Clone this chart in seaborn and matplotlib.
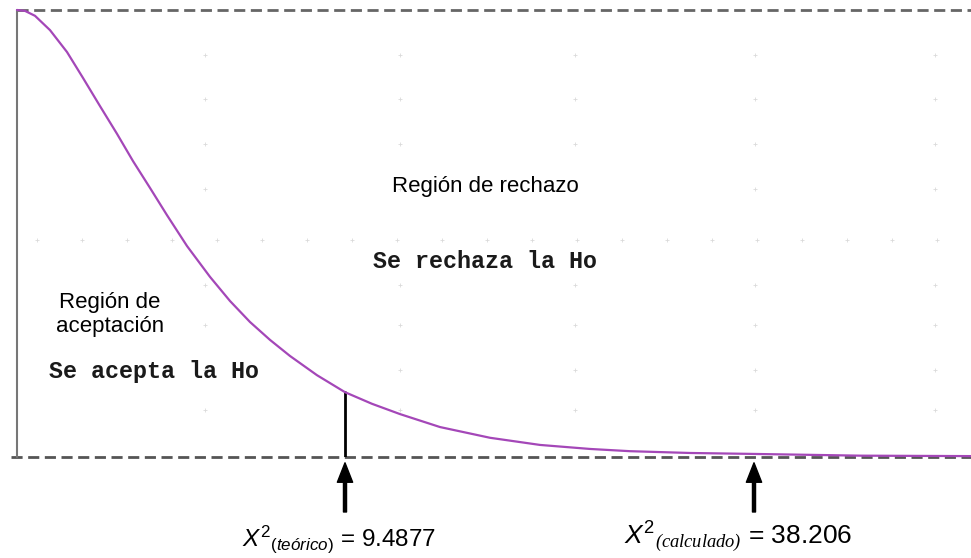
import matplotlib
matplotlib.use("Agg")
import matplotlib.pyplot as plt
import seaborn as sns
import pandas as pd

# curve of the distribution (x in plot units, y as fraction of height)
curve_x = [0, 8, 18, 33, 50, 66, 83, 100, 116, 133, 150, 170, 193, 213, 233, 253,
           273, 300, 328, 355, 383, 423, 473, 523, 573, 613, 673, 733, 843, 954]
curve_y = [1.0, 0.998, 0.987, 0.955, 0.906, 0.848, 0.785, 0.723, 0.662, 0.602,
           0.541, 0.472, 0.403, 0.349, 0.302, 0.262, 0.226, 0.183, 0.145, 0.119,
           0.096, 0.067, 0.043, 0.027, 0.018, 0.013, 0.009, 0.007, 0.003, 0.002]

# critical value and calculated value positions
crit_x = 328
crit_h = 0.145
calc_x = 737

# faint background specks
speck_cols = [188, 383, 558, 738, 918]
speck_rows = [0.90, 0.80, 0.70, 0.60, 0.385, 0.295, 0.195, 0.105]
mid_row_x = [20, 65, 110, 155, 200, 245, 290, 335, 380, 425, 470, 515, 560,
             605, 650, 695, 740, 785, 830, 875, 920]
mid_row_y = 0.485

df = pd.DataFrame({"x": curve_x, "y": curve_y})

sns.set_style("white")
plt.rcParams["font.family"] = ["Liberation Sans", "DejaVu Sans"]
plt.rcParams["text.color"] = "black"
plt.rcParams["mathtext.fontset"] = "custom"
plt.rcParams["mathtext.rm"] = "Liberation Sans"
plt.rcParams["mathtext.it"] = "Liberation Sans:italic"
plt.rcParams["mathtext.cal"] = "Liberation Serif:italic"

fig = plt.figure(figsize=(9.71, 5.58), dpi=100)
ax = fig.add_axes([17 / 971, 101 / 558, 954 / 971, 447 / 558])
ax.set_xlim(0, 954)
ax.set_ylim(0, 1)
ax.axis("off")

# specks
sx = [c for c in speck_cols for r in speck_rows]
sy = [r for c in speck_cols for r in speck_rows]
ax.scatter(sx, sy, marker="+", s=10, color="#dadada", linewidths=0.6, zorder=1)
ax.scatter(mid_row_x, [mid_row_y] * len(mid_row_x), marker="+", s=10,
           color="#dadada", linewidths=0.6, zorder=1)

# frame: dashed top and bottom, solid left
ax.plot([0, 954], [1, 1], ls=(0, (4, 2)), color="#666666", lw=2, clip_on=False, zorder=2)
ax.plot([-6, 954], [0, 0], ls=(0, (4, 2)), color="#555555", lw=2, clip_on=False, zorder=2)
ax.plot([0, 0], [0, 1], color="#777777", lw=1.5, clip_on=False, zorder=2)

sns.lineplot(data=df, x="x", y="y", color="#a447b8", lw=1.6, ax=ax, zorder=4)
ax.lines[-1].set_clip_on(False)
ax.lines[-1].set_solid_joinstyle("round")

# critical value line
ax.plot([crit_x, crit_x], [0, crit_h], color="black", lw=2, zorder=3)

# arrows below the axis
for xa in [crit_x, calc_x]:
    ax.annotate("", xy=(xa, -0.013), xytext=(xa, -0.123),
                xycoords="data", textcoords="data", annotation_clip=False,
                arrowprops=dict(width=2.2, headwidth=11, headlength=14,
                                facecolor="black", edgecolor="black", shrink=0))

# region texts
ax.text(468, 0.605, "Región de rechazo", ha="center", va="center", fontsize=16)
ax.text(468, 0.438, "Se rechaza la Ho", ha="center", va="center", fontsize=16.8,
        family="Liberation Mono", weight="bold", color="#1a1a1a")
ax.text(93, 0.318, "Región de\naceptación", ha="center", va="center", fontsize=16,
        linespacing=1.2)
ax.text(137, 0.192, "Se acepta la Ho", ha="center", va="center", fontsize=16.8,
        family="Liberation Mono", weight="bold", color="#1a1a1a")

# bottom labels
ax.text(322, -0.185, r"$X^{2}{}_{\mathit{(teórico)}}$ = 9.4877", ha="center",
        va="center", fontsize=17.5, clip_on=False)
ax.text(721, -0.18, r"$X^{2}{}_{\mathcal{(calculado)}}$ = 38.206", ha="center",
        va="center", fontsize=19, clip_on=False)

fig.savefig("out.png", dpi=100, facecolor="white")
